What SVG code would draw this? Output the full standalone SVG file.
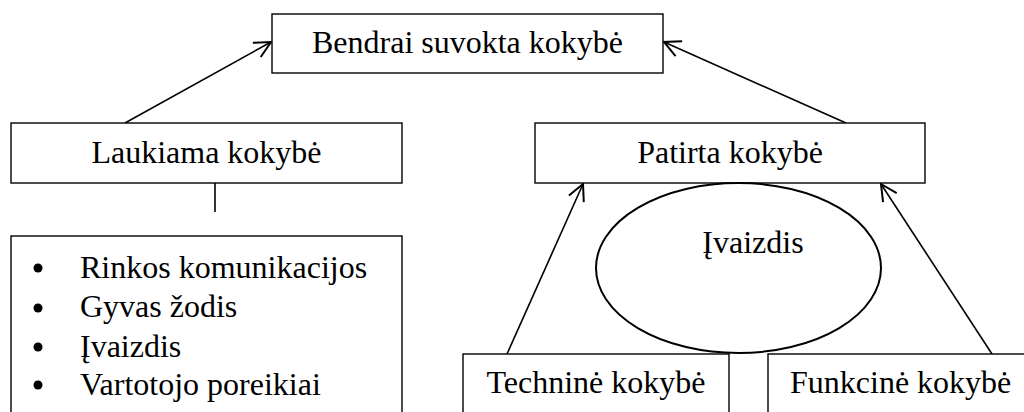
<svg xmlns="http://www.w3.org/2000/svg" width="1024" height="412" viewBox="0 0 1024 412">
<style>
.box{fill:#fff;stroke:#000;stroke-width:1.4}
.t{font-family:"Liberation Serif","Times New Roman",serif;font-size:32px;fill:#000}
.c{text-anchor:middle}
.ln{stroke:#000;stroke-width:1.6;fill:none}
</style>
<defs>
<marker id="arr" markerUnits="userSpaceOnUse" markerWidth="20" markerHeight="20" viewBox="-14 -8 16 16" refX="0" refY="0" orient="auto">
<path d="M-13,-6.5 L0,0 L-13,6.5" fill="none" stroke="#000" stroke-width="1.6"/>
</marker>
</defs>
<rect width="1024" height="412" fill="#fff"/>
<g id="connectors">
<line class="ln" x1="125" y1="123" x2="271" y2="42" marker-end="url(#arr)"/>
<line class="ln" x1="846" y1="123" x2="664" y2="42" marker-end="url(#arr)"/>
<line class="ln" x1="215" y1="183" x2="215" y2="212"/>
<line class="ln" x1="507" y1="354" x2="583" y2="184" marker-end="url(#arr)"/>
<line class="ln" x1="992" y1="354" x2="881" y2="184" marker-end="url(#arr)"/>
</g>
<g id="n-bendrai">
<rect class="box" x="272" y="14" width="391" height="59"/>
<text class="t c" x="467.5" y="53">Bendrai suvokta kokybė</text>
</g>
<g id="n-laukiama">
<rect class="box" x="11" y="123" width="391" height="60"/>
<text class="t c" x="206.5" y="163">Laukiama kokybė</text>
</g>
<g id="n-patirta">
<rect class="box" x="535" y="123" width="390" height="60"/>
<text class="t c" x="730" y="163">Patirta kokybė</text>
</g>
<g id="n-list">
<rect class="box" x="11" y="236" width="391" height="190"/>
<circle cx="38" cy="268" r="4.5"/>
<circle cx="38" cy="308" r="4.5"/>
<circle cx="38" cy="347" r="4.5"/>
<circle cx="38" cy="385" r="4.5"/>
<text class="t" x="80" y="278">Rinkos komunikacijos</text>
<text class="t" x="80" y="317">Gyvas žodis</text>
<text class="t" x="80" y="357">Įvaizdis</text>
<text class="t" x="80" y="395">Vartotojo poreikiai</text>
</g>
<g id="n-ivaizdis">
<ellipse cx="738.5" cy="268" rx="142.5" ry="85" fill="#fff" stroke="#000" stroke-width="2"/>
<text class="t c" x="753" y="253">Įvaizdis</text>
</g>
<g id="n-technine">
<rect class="box" x="463" y="354" width="266" height="80"/>
<text class="t c" x="596" y="393">Techninė kokybė</text>
</g>
<g id="n-funkcine">
<rect class="box" x="768" y="354" width="280" height="80"/>
<text class="t" x="790" y="393">Funkcinė kokybė</text>
</g>
</svg>
